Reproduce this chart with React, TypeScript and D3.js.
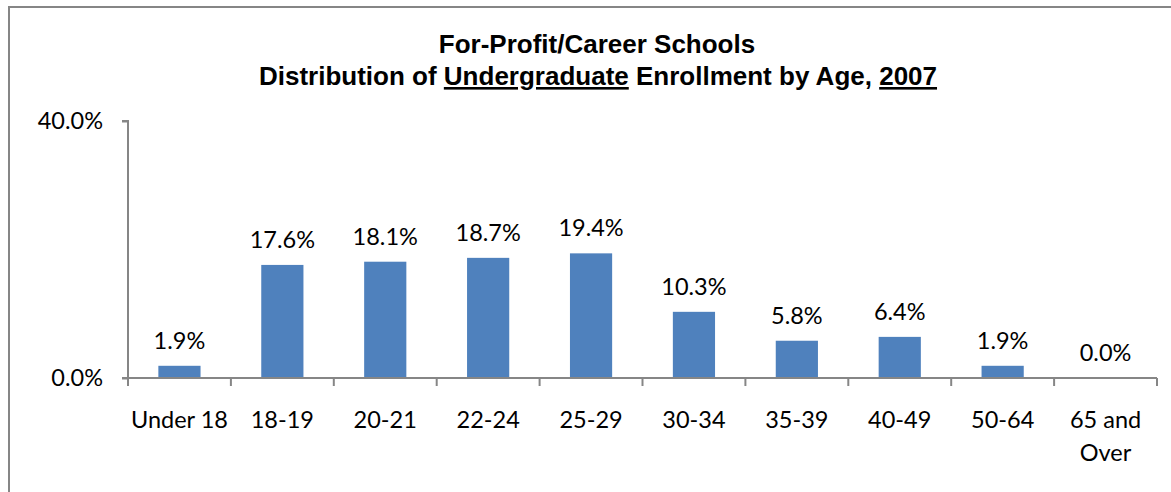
import { useEffect, useRef } from 'react';
import * as d3 from 'd3';

const categories = ['Under 18', '18-19', '20-21', '22-24', '25-29', '30-34', '35-39', '40-49', '50-64', '65 and Over'];
const shares = [1.9, 17.6, 18.1, 18.7, 19.4, 10.3, 5.8, 6.4, 1.9, 0.0];
const yTicks = [0, 40];

const W = 1171;
const H = 492;

const App = () => {
  const svgRef = useRef<SVGSVGElement>(null);

  useEffect(() => {
    const svg = d3.select(svgRef.current);
    svg.selectAll('*').remove();

    const margin = { top: 121, right: 14, bottom: 114, left: 128 };
    const chartW = W - margin.left - margin.right;
    const chartH = H - margin.top - margin.bottom;
    const labelFont = 'Lato, "Open Sans", sans-serif';
    const labelSize = '23.5px';

    // outer frame: only top and left edges are visible in the crop
    svg.append('path')
      .attr('d', `M9,${H}V7H${W}`)
      .attr('fill', 'none')
      .attr('stroke', '#868686')
      .attr('stroke-width', 2);

    // title
    const title = svg.append('text')
      .attr('text-anchor', 'middle')
      .attr('font-family', '"Liberation Sans", Arial, sans-serif')
      .attr('font-weight', 'bold')
      .attr('font-size', '26px')
      .attr('fill', '#000');
    title.append('tspan').attr('x', 597).attr('y', 53).text('For-Profit/Career Schools');
    const l2 = title.append('tspan').attr('x', 598).attr('y', 85);
    l2.append('tspan').text('Distribution of ');
    l2.append('tspan').attr('text-decoration', 'underline').text('Undergraduate');
    l2.append('tspan').text(' Enrollment by Age, ');
    l2.append('tspan').attr('text-decoration', 'underline').text('2007');

    const g = svg.append('g').attr('transform', `translate(${margin.left},${margin.top})`);

    const x = d3.scaleBand().domain(categories).range([0, chartW]).paddingInner(0.59).paddingOuter(0.295);
    const xTick = d3.scaleBand().domain(categories).range([0, chartW]);
    const y = d3.scaleLinear().domain([0, 40]).range([chartH, 0]);

    // y axis
    const yAxis = g.append('g')
      .call(d3.axisLeft(y).tickValues(yTicks).tickSize(6).tickFormat(d => `${(d as number).toFixed(1)}%`));
    yAxis.select('.domain').attr('stroke', '#868686').attr('stroke-width', 2).attr('d', `M-6,0H0V${chartH}H-6`);
    yAxis.selectAll('line').attr('stroke', '#868686').attr('stroke-width', 2);
    yAxis.selectAll('text')
      .attr('font-family', labelFont)
      .attr('font-size', labelSize)
      .attr('fill', '#000')
      .attr('x', -25);

    // bars
    g.selectAll('.bar')
      .data(shares)
      .enter()
      .append('rect')
      .attr('class', 'bar')
      .attr('x', (_, i) => x(categories[i]) || 0)
      .attr('y', d => y(d))
      .attr('width', x.bandwidth())
      .attr('height', d => chartH - y(d))
      .attr('fill', '#4F81BD');

    // x axis
    const xAxisG = g.append('g').attr('transform', `translate(0,${chartH})`);
    xAxisG.append('line')
      .attr('x1', 0).attr('x2', chartW)
      .attr('stroke', '#868686').attr('stroke-width', 2);
    const tickPos = categories.map(c => xTick(c) || 0).concat([chartW]);
    xAxisG.selectAll('.xtick')
      .data(tickPos)
      .enter()
      .append('line')
      .attr('x1', d => d).attr('x2', d => d)
      .attr('y1', 0).attr('y2', 8)
      .attr('stroke', '#868686').attr('stroke-width', 2);

    // category labels
    categories.forEach(c => {
      const cx = (xTick(c) || 0) + xTick.bandwidth() / 2;
      const t = xAxisG.append('text')
        .attr('text-anchor', 'middle')
        .attr('font-family', labelFont)
        .attr('font-size', labelSize)
        .attr('fill', '#000');
      const parts = c === '65 and Over' ? ['65 and', 'Over'] : [c];
      parts.forEach((p, i) => {
        t.append('tspan').attr('x', cx).attr('y', 50 + i * 33).text(p);
      });
    });

    // value labels
    g.selectAll('.label')
      .data(shares)
      .enter()
      .append('text')
      .attr('class', 'label')
      .attr('x', (_, i) => (x(categories[i]) || 0) + x.bandwidth() / 2)
      .attr('y', d => y(d) - 17)
      .attr('text-anchor', 'middle')
      .attr('font-family', labelFont)
      .attr('font-size', labelSize)
      .attr('fill', '#000')
      .text(d => `${d.toFixed(1)}%`);
  }, []);

  return (
    <div style={{ position: 'absolute', left: 0, top: 0 }}>
      <svg ref={svgRef} width={W} height={H} style={{ display: 'block' }}></svg>
    </div>
  );
};

export default App;
